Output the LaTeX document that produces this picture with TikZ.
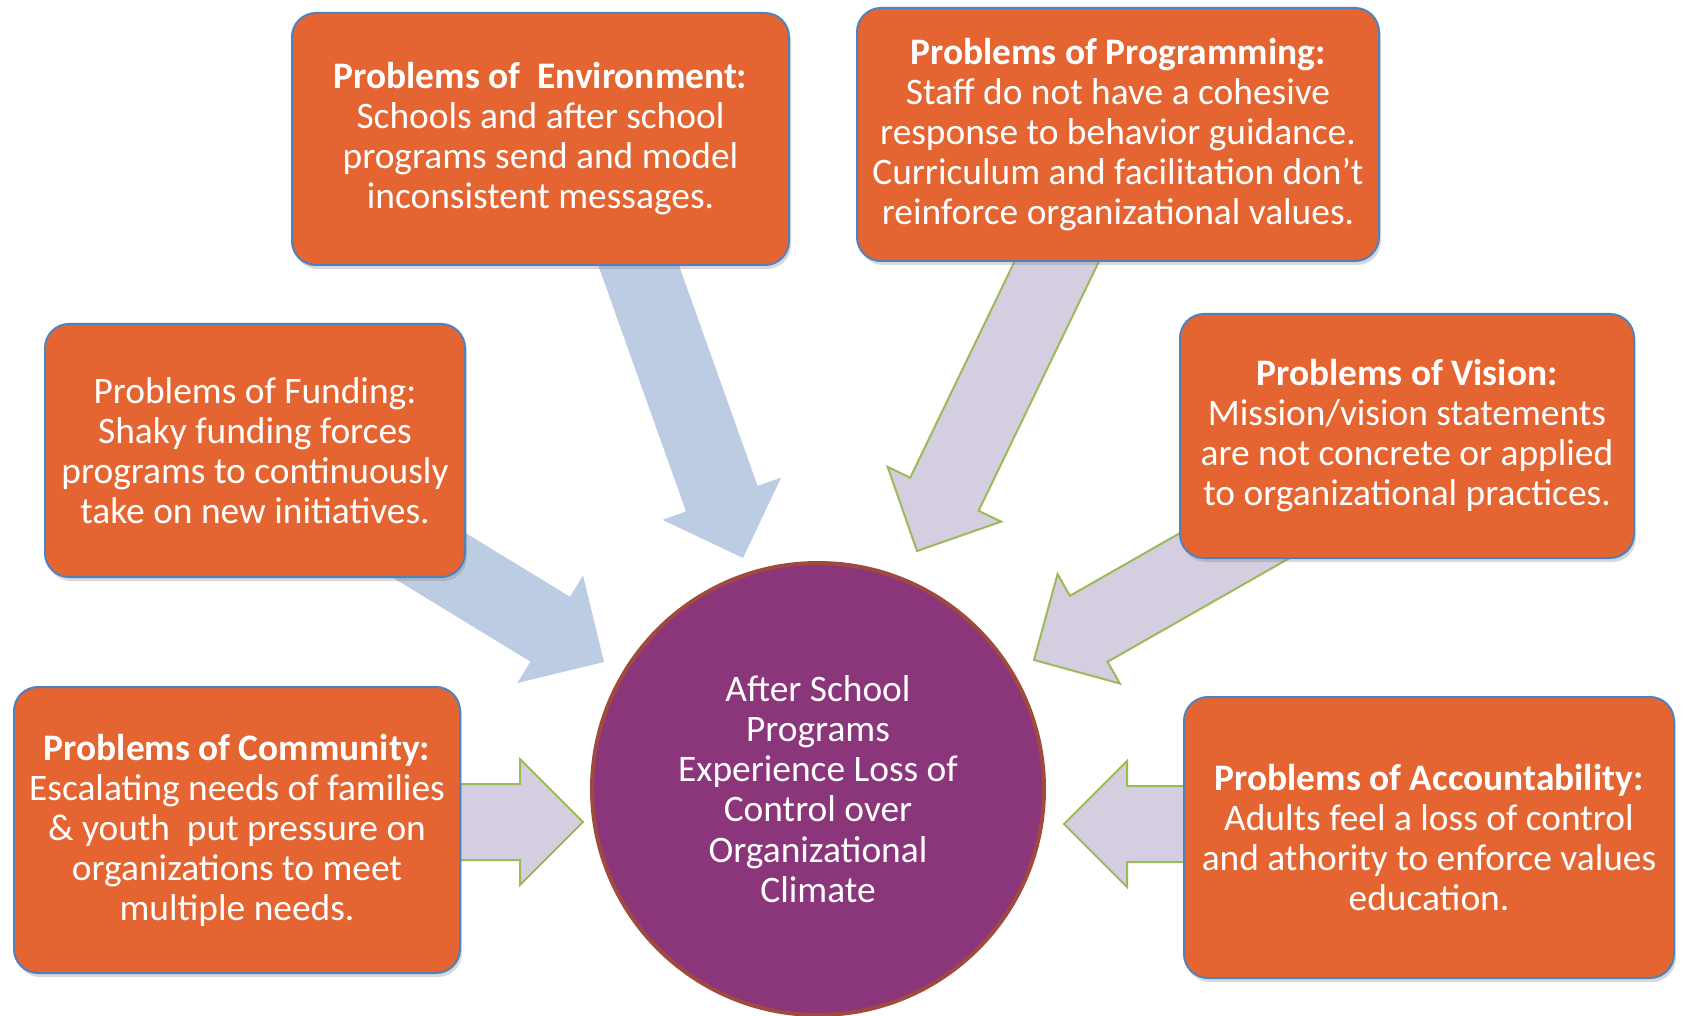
\documentclass[tikz,border=0pt]{standalone}
\usepackage{fontspec}
\setmainfont{Carlito}
\usetikzlibrary{calc,shadows,backgrounds}
\definecolor{boxfill}{HTML}{E46532}
\definecolor{boxline}{HTML}{4F81BD}
\definecolor{hubfill}{HTML}{8B357B}
\definecolor{hubline}{HTML}{A04A3F}
\definecolor{arrowblue}{HTML}{BCCCE2}
\definecolor{arrowlav}{HTML}{D5CDE0}
\definecolor{arrowgreen}{HTML}{9BBB59}
\tikzset{
  probbox/.style={draw=boxline, fill=boxfill, line width=1pt, rounded corners=12pt,
                  text=white, align=center, inner sep=0pt,
                  font=\fontsize{18.7}{20}\selectfont,
                  drop shadow={opacity=0.3, shadow xshift=1pt, shadow yshift=-2pt}},
  hubnode/.style={circle, draw=hubline, fill=hubfill, line width=2pt, text=white,
                  align=center, minimum size=226pt, inner sep=0pt,
                  font=\fontsize{18.7}{20.1}\selectfont},
  bluearrow/.style={fill=arrowblue},
  lavarrow/.style={fill=arrowlav, draw=arrowgreen, line width=1pt},
}
% block arrow from tail to tip
\newcommand{\fatarrow}[3]{%
  \coordinate (neck) at ($(#3)!31.5pt!(#2)$);
  \path[#1] ($(#2)!19pt!90:(#3)$) -- ($(neck)!19pt!90:(#3)$) -- ($(neck)!31.5pt!90:(#3)$)
    -- (#3) -- ($(neck)!31.5pt!-90:(#3)$) -- ($(neck)!19pt!-90:(#3)$)
    -- ($(#2)!19pt!-90:(#3)$) -- cycle;}

\begin{document}
\begin{tikzpicture}[x=0.5pt, y=-0.5pt]
  \useasboundingbox (0,0) rectangle (1683,1016);
  % problem boxes
  \node[probbox, minimum width=248.5pt, minimum height=126pt] (env) at (540.5,139)
    {\textbf{Problems of~ Environment:}\\Schools and after school\\programs send and model\\inconsistent messages.};
  \node[probbox, minimum width=261pt, minimum height=126.5pt] (prog) at (1118,134.5)
    {\textbf{Problems of Programming:}\\Staff do not have a cohesive\\response to behavior guidance.\\Curriculum and facilitation don’t\\reinforce organizational values.};
  \node[probbox, minimum width=210pt, minimum height=126.5pt] (fund) at (255,450.5)
    {Problems of Funding:\\Shaky funding forces\\programs to continuously\\take on new initiatives.};
  \node[probbox, minimum width=227pt, minimum height=122pt] (vis) at (1407,436)
    {\textbf{Problems of Vision:}\\Mission/vision statements\\are not concrete or applied\\to organizational practices.};
  \node[probbox, minimum width=223pt, minimum height=143pt] (comm) at (237,830)
    {\textbf{Problems of Community:}\\Escalating needs of families\\\& youth~ put pressure on\\organizations to meet\\multiple needs.};
  \node[probbox, minimum width=245pt, minimum height=140.5pt] (acct) at (1429,837.5)
    {\textbf{Problems of Accountability:}\\Adults feel a loss of control\\and athority to enforce values\\education.};
  % centre
  \node[hubnode] (hub) at (818,789)
    {After School\\Programs\\Experience Loss of\\Control over\\Organizational\\Climate};
  % arrow ends
  \coordinate (envA) at ($(env.south)+(80.5,-50)$);
  \coordinate (envB) at ($(hub.center)+(-75,-231)$);
  \coordinate (progA) at ($(prog.south)+(-34,-57)$);
  \coordinate (progB) at ($(hub.center)+(99,-238)$);
  \coordinate (fundA) at ($(fund.south east)+(-98,-60)$);
  \coordinate (fundB) at ($(hub.center)+(-214,-127)$);
  \coordinate (visA) at ($(vis.south west)+(141,-62)$);
  \coordinate (visB) at ($(hub.center)+(216,-129)$);
  \coordinate (commA) at ($(comm.east)+(-31,-8)$);
  \coordinate (commB) at ($(hub.center)+(-235,33)$);
  \coordinate (acctA) at ($(acct.west)+(104,-13.5)$);
  \coordinate (acctB) at ($(hub.center)+(246,35)$);
  \begin{pgfonlayer}{background}
    \fatarrow{bluearrow}{envA}{envB}
    \fatarrow{bluearrow}{fundA}{fundB}
    \fatarrow{lavarrow}{progA}{progB}
    \fatarrow{lavarrow}{visA}{visB}
    \fatarrow{lavarrow}{commA}{commB}
    \fatarrow{lavarrow}{acctA}{acctB}
  \end{pgfonlayer}
\end{tikzpicture}
\end{document}
